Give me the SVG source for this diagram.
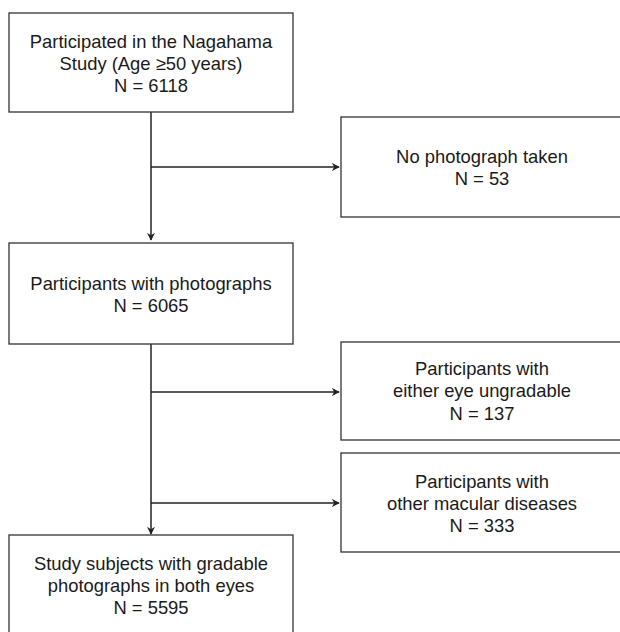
<svg xmlns="http://www.w3.org/2000/svg" width="620" height="632" viewBox="0 0 620 632">
<style>
.box{fill:#fff;stroke:#333;stroke-width:1.3}
.t{font-family:"Liberation Sans",Arial,sans-serif;font-size:18.4px;fill:#1a1a1a;text-anchor:middle}
.c{fill:none;stroke:#222;stroke-width:1.5}
</style>
<defs>
<marker id="ah" viewBox="0 0 10 10" refX="9" refY="5" markerWidth="8" markerHeight="8" markerUnits="userSpaceOnUse" orient="auto">
<path d="M0,0 L10,5 L0,10 L3,5 Z" fill="#222"/>
</marker>
</defs>
<rect width="620" height="632" fill="#fff"/>
<g id="connectors">
<line class="c" x1="151" y1="112" x2="151" y2="240" marker-end="url(#ah)"/>
<line class="c" x1="151" y1="167" x2="339" y2="167" marker-end="url(#ah)"/>
<line class="c" x1="151" y1="344" x2="151" y2="534" marker-end="url(#ah)"/>
<line class="c" x1="151" y1="392" x2="339" y2="392" marker-end="url(#ah)"/>
<line class="c" x1="151" y1="503" x2="339" y2="503" marker-end="url(#ah)"/>
</g>
<g id="n1">
<rect class="box" x="9" y="13" width="284" height="99"/>
<text class="t" x="151" y="48">Participated in the Nagahama</text>
<text class="t" x="151" y="70">Study (Age ≥50 years)</text>
<text class="t" x="151" y="92">N = 6118</text>
</g>
<g id="n2">
<rect class="box" x="341" y="117" width="284" height="100"/>
<text class="t" x="482" y="163">No photograph taken</text>
<text class="t" x="482" y="185">N = 53</text>
</g>
<g id="n3">
<rect class="box" x="9" y="243" width="284" height="101"/>
<text class="t" x="151" y="290">Participants with photographs</text>
<text class="t" x="151" y="312">N = 6065</text>
</g>
<g id="n4">
<rect class="box" x="341" y="342" width="284" height="98"/>
<text class="t" x="482" y="375">Participants with</text>
<text class="t" x="482" y="397">either eye ungradable</text>
<text class="t" x="482" y="420">N = 137</text>
</g>
<g id="n5">
<rect class="box" x="341" y="453" width="284" height="99"/>
<text class="t" x="482" y="488">Participants with</text>
<text class="t" x="482" y="510">other macular diseases</text>
<text class="t" x="482" y="532">N = 333</text>
</g>
<g id="n6">
<rect class="box" x="9" y="535" width="284" height="110"/>
<text class="t" x="151" y="570">Study subjects with gradable</text>
<text class="t" x="151" y="592">photographs in both eyes</text>
<text class="t" x="151" y="614">N = 5595</text>
</g>
</svg>
